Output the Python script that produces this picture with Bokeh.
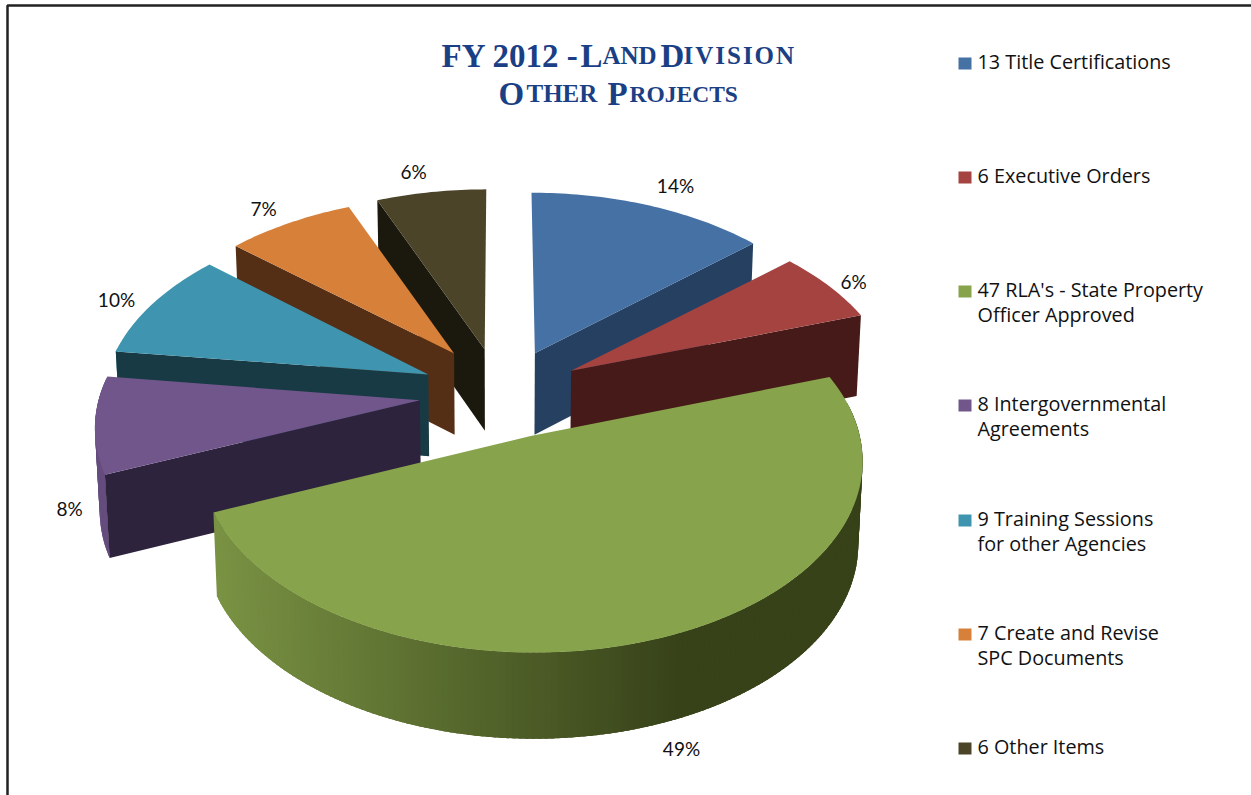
import math
from bokeh.plotting import figure
from bokeh.models import ColumnDataSource, Range1d
from bokeh.core.properties import value as fixed
from bokeh.embed import file_html
from bokeh.resources import INLINE

# Project counts, clockwise from twelve o'clock
counts = [13, 6, 47, 8, 9, 7, 6]
percent_labels = ["14%", "6%", "49%", "8%", "10%", "7%", "6%"]
legend_lines = [
    ["13 Title Certifications"],
    ["6 Executive Orders"],
    ["47 RLA's - State Property", "Officer Approved"],
    ["8 Intergovernmental", "Agreements"],
    ["9 Training Sessions", "for other Agencies"],
    ["7 Create and Revise", "SPC Documents"],
    ["6 Other Items"],
]
top_colors = ["#4571A5", "#A44340", "#87A44C", "#71568C", "#3F95AF", "#D7803A", "#4B4429"]
wall_colors = ["#264061", "#461A18", "#374219", "#2E233D", "#183A45", "#552F15", "#1B180D"]
label_xy = [(675, 185), (853, 281), (681, 748), (69, 508), (116, 299), (263, 208), (413, 171)]
legend_row_y = [61, 175, 289, 403, 518, 632, 746]
swatch_y = [63, 177, 291, 405, 520, 634, 748]

# Per-slice placement trim in pixels and radius trim
slice_nudge = [(6, 4), (7, 4), (5, 5), (0, 6), (1, 4), (1, 0), (2, 3)]
slice_radius = [(1, 1.03), (1, 1), (0.985, 0.98), (0.985, 1), (1, 1), (1, 1), (1, 1.03)]

# Title runs: text, left edge, baseline, font size (small capitals are set as smaller capitals)
title_runs = [
    ("FY 2012 - ", 441, 55, 33), ("L", 580, 55, 33), ("AND", 602, 55, 25), ("D", 660, 55, 33),
    ("I", 683, 55, 25), ("V", 694.7, 55, 25), ("I", 714.7, 55, 25), ("S", 726.4, 55, 25),
    ("I", 742.4, 55, 25), ("O", 754, 55, 25), ("N", 775.6, 55, 25),
    ("O", 498, 93, 33), ("THER", 526, 93, 25), ("P", 607, 93, 33), ("ROJECTS", 629, 93, 23.5),
]

# Camera and pie geometry
CX, CY = 497.0, 388.0
SCALE_X, SCALE_Y = 325.0, 184.0
PERSPECTIVE = 0.12
EXPLODE = 0.24
THICKNESS = 82.0
STEP_DEG = 1.0


def project(u, v, h=0.0):
    s = 1.0 / (1.0 + PERSPECTIVE * v)
    depth = THICKNESS * (1 + 0.3 * (s - 1))
    return (CX + SCALE_X * u * s * (1 - 0.012 * h), CY - SCALE_Y * v * s + depth * h)


def mix(c1, c2, t):
    a = [int(c1[i:i + 2], 16) for i in (1, 3, 5)]
    b = [int(c2[i:i + 2], 16) for i in (1, 3, 5)]
    return "#%02x%02x%02x" % tuple(round(p + (q - p) * t) for p, q in zip(a, b))


total = sum(counts)
slices = []
acc = 0
for n, top, wall, nudge, rad in zip(counts, top_colors, wall_colors, slice_nudge, slice_radius):
    start = 360.0 * acc / total
    end = 360.0 * (acc + n) / total
    acc += n
    mid = math.radians((start + end) / 2)
    slices.append(dict(start=start, end=end, top=top, wall=wall, nudge=nudge, rad=rad,
                       ou=EXPLODE * math.sin(mid), ov=EXPLODE * math.cos(mid)))

xs, ys, fills = [], [], []


def add_face(points, color):
    xs.append([q[0] for q in points])
    ys.append([q[1] for q in points])
    fills.append(color)


def place(sl, pt):
    return (pt[0] + sl["nudge"][0], pt[1] + sl["nudge"][1])


def rim_point(sl, deg, h=0.0):
    a = math.radians(deg)
    ru, rv = sl["rad"]
    return place(sl, project(sl["ou"] + ru * math.sin(a), sl["ov"] + rv * math.cos(a), h))


# Painter's order: back slices first, the large front slice last
for idx in [6, 5, 4, 3, 0, 1, 2]:
    sl = slices[idx]
    nsteps = max(2, int((sl["end"] - sl["start"]) / STEP_DEG))
    step = (sl["end"] - sl["start"]) / nsteps
    angles = [sl["start"] + step * i for i in range(nsteps + 1)]
    apex_t = place(sl, project(sl["ou"], sl["ov"], 0))
    apex_b = place(sl, project(sl["ou"], sl["ov"], 1))

    # Outer rim on the camera side, shaded left to right; each strip overlaps the next
    light = mix(sl["top"], sl["wall"], 0.18)
    strips = [a for a in angles[:-1] if math.cos(math.radians(a + step / 2)) < 0.15]
    for a0 in reversed(strips):
        a1 = a0 + step
        far = max(sl["start"], a0 - step * 1.5)
        p0, p1 = rim_point(sl, a0), rim_point(sl, a1)
        q1 = rim_point(sl, a1, 1)
        t = min(1.0, max(0.0, ((p0[0] + p1[0]) / 2 - 215) / 465))
        add_face([rim_point(sl, far), p1, q1, rim_point(sl, far, 1)], mix(light, sl["wall"], t))

    # Radial cut faces that turn toward the camera
    cut = {3: "start", 4: "start", 5: "start", 6: "start", 0: "end", 1: "end"}.get(idx)
    if cut:
        deg = sl[cut]
        add_face([apex_t, rim_point(sl, deg), rim_point(sl, deg, 1), apex_b], sl["wall"])

    # Top face
    add_face([apex_t] + [rim_point(sl, d) for d in angles], sl["top"])

p = figure(width=1251, height=795, output_backend="svg", toolbar_location=None,
           x_range=Range1d(0, 1251), y_range=Range1d(795, 0),
           min_border=0, outline_line_color=None, background_fill_color="white")
p.axis.visible = False
p.grid.visible = False

src = ColumnDataSource(dict(xs=xs, ys=ys, fill=fills))
p.patches("xs", "ys", source=src, fill_color="fill", line_color=None)

# Frame at the top and left edges
p.line([7, 7, 1251], [795, 5, 5], line_color="#222222", line_width=2.5)

# Title
for txt, x0, base, size in title_runs:
    p.text([x0], [base], text=[txt], text_font=fixed("Liberation Serif"),
           text_font_style="bold", text_font_size=f"{size}px", text_color="#1B3F85",
           text_baseline="alphabetic", text_align="left")

# Percentage labels
p.text([q[0] for q in label_xy], [q[1] for q in label_xy], text=percent_labels,
       text_font=fixed("Lato"), text_font_size="19px", text_color="#111111",
       text_align="center", text_baseline="middle")

# Legend
p.quad(left=[958] * 7, right=[971] * 7,
       top=[y - 6 for y in swatch_y], bottom=[y + 6 for y in swatch_y],
       fill_color=top_colors, line_color=None)
for row_y, lines in zip(legend_row_y, legend_lines):
    p.text([977] * len(lines), [row_y + 24.5 * i for i in range(len(lines))], text=lines,
           text_font=fixed("Open Sans"), text_font_size="19.8px", text_color="#111111",
           text_align="left", text_baseline="middle")

open("out.html", "w").write(file_html(p, INLINE))
